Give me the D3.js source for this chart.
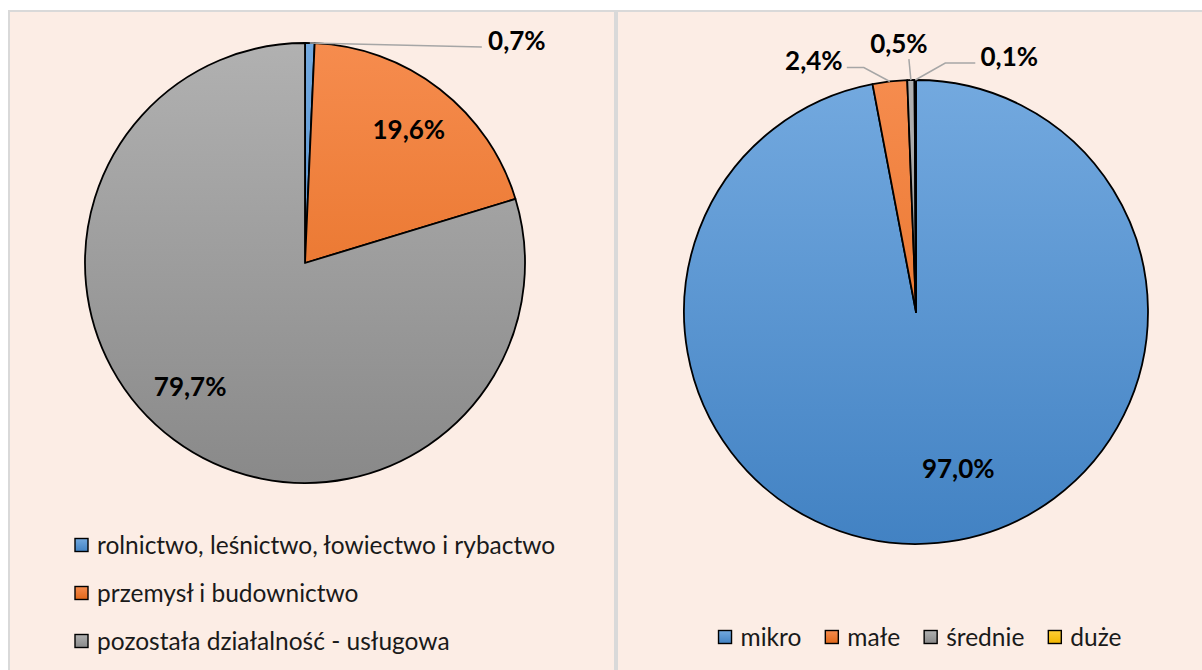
<!DOCTYPE html>
<html>
<head>
<meta charset="utf-8">
<script src="https://cdn.jsdelivr.net/npm/d3@7"></script>
<style>
  body { margin: 0; background: #fff; }
  svg text { font-family: Lato, "Open Sans", sans-serif; }
</style>
</head>
<body>
<div id="chart"></div>
<script>
// left chart: sectors
var sectorNames  = ["rolnictwo, leśnictwo, łowiectwo i rybactwo", "przemysł i budownictwo", "pozostała działalność - usługowa"];
var sectorShares = [0.7, 19.6, 79.7];
// right chart: company size
var sizeNames  = ["mikro", "małe", "średnie", "duże"];
var sizeShares = [97.0, 2.4, 0.5, 0.1];

var W = 1202, H = 670;
var fmt = function(v){ return d3.format(".1f")(v).replace(".", ",") + "%"; };

// gradient stops: top / bottom
var palette = {
  blue:   ["#73a9df", "#4282c3"],
  orange: ["#f68c4e", "#e1681a"],
  gray:   ["#b1b1b1", "#898989"],
  yellow: ["#ffce36", "#f2b600"]
};
var sectorColors = ["blue", "orange", "gray"];
var sizeColors   = ["blue", "orange", "gray", "yellow"];

var svg = d3.select("#chart").append("svg")
    .attr("width", W)
    .attr("height", H);

var defs = svg.append("defs");

// panels
svg.append("rect").attr("x", 8).attr("y", 10).attr("width", W - 8).attr("height", H - 10).style("fill", "#d9d9d9");
svg.append("rect").attr("x", 10).attr("y", 12).attr("width", 604).attr("height", H - 12).style("fill", "#fcede5");
svg.append("rect").attr("x", 618).attr("y", 12).attr("width", W - 618).attr("height", H - 12).style("fill", "#fcede5");

function gradient(id, key, y0, y1) {
  var g = defs.append("linearGradient")
      .attr("id", id)
      .attr("gradientUnits", "userSpaceOnUse")
      .attr("x1", 0).attr("x2", 0).attr("y1", y0).attr("y2", y1);
  g.append("stop").attr("offset", "0%").attr("stop-color", palette[key][0]);
  g.append("stop").attr("offset", "100%").attr("stop-color", palette[key][1]);
}

var pie = d3.pie().sort(null).value(function(d){ return d; });

function drawPie(opt) {
  var g = svg.append("g").attr("transform", "translate(" + opt.cx + "," + opt.cy + ")");
  var arcs = pie(opt.values);
  var arc = d3.arc().innerRadius(0).outerRadius(opt.r);

  opt.colors.forEach(function(c, i){
    gradient(opt.id + "-slice-" + i, c, -opt.r, opt.r);
  });

  g.selectAll("path.slice")
    .data(arcs)
    .enter().append("path")
      .attr("class", "slice")
      .attr("d", arc)
      .style("fill", function(d, i){ return "url(#" + opt.id + "-slice-" + i + ")"; })
      .style("stroke", "#000")
      .style("stroke-width", 1.8)
      .style("stroke-linejoin", "round");

  // labels
  arcs.forEach(function(d, i){
    var lay = opt.labels[i];
    var x, y;
    if (lay.inside) {
      var la = d3.arc().innerRadius(opt.r * lay.k).outerRadius(opt.r * lay.k);
      var c = la.centroid(d);
      x = c[0] + (lay.nudge ? lay.nudge[0] : 0);
      y = c[1] + (lay.nudge ? lay.nudge[1] : 0);
    } else {
      var ang = (d.startAngle + d.endAngle) / 2;
      var px = opt.r * Math.sin(ang), py = -opt.r * Math.cos(ang);
      var pts = [[px, py]].concat(lay.leader.map(function(p){ return [px + p[0], py + p[1]]; }));
      g.append("path")
        .attr("d", d3.line()(pts))
        .style("fill", "none")
        .style("stroke", "#a6a6a6")
        .style("stroke-width", 1.5);
      x = px + lay.at[0];
      y = py + lay.at[1];
    }
    g.append("text")
      .attr("x", x)
      .attr("y", y)
      .attr("dy", "0.36em")
      .attr("text-anchor", "middle")
      .style("font-size", "26px")
      .style("font-weight", "bold")
      .style("fill", "#000")
      .text(fmt(opt.values[i]));
  });
}

drawPie({
  id: "sec", cx: 305, cy: 263, r: 220,
  values: sectorShares, colors: sectorColors,
  labels: [
    { leader: [[172, 4]], at: [207, -2] },
    { inside: true, k: 0.77 },
    { inside: true, k: 0.77, nudge: [-14, -12] }
  ]
});

drawPie({
  id: "size", cx: 916, cy: 312, r: 232,
  values: sizeShares, colors: sizeColors,
  labels: [
    { inside: true, k: 0.7, nudge: [27, -5] },
    { leader: [[-26, -14], [-43, -14]], at: [-76, -21] },
    { leader: [[-2, -21]], at: [-12, -36] },
    { leader: [[30, -17], [60, -17]], at: [94, -23] }
  ]
});

// legends
var SQ = 13;
function swatch(g, id, key, x, y) {
  gradient(id, key, y, y + SQ);
  g.append("rect")
    .attr("x", x).attr("y", y)
    .attr("width", SQ).attr("height", SQ)
    .style("fill", "url(#" + id + ")")
    .style("stroke", "#000")
    .style("stroke-width", 1.4);
}

var legL = svg.append("g");
var rowY = d3.scalePoint().domain(sectorNames).range([545, 641]);
sectorNames.forEach(function(name, i){
  var y = rowY(name);
  swatch(legL, "legL-" + i, sectorColors[i], 75, y - SQ / 2);
  legL.append("text")
    .attr("x", 97).attr("y", y).attr("dy", "0.35em")
    .style("font-size", "24.5px")
    .style("fill", "#1a1a1a")
    .text(name);
});

var legR = svg.append("g");
var xCursor = 0;
sizeNames.forEach(function(name, i){
  var ig = legR.append("g");
  swatch(ig, "legR-" + i, sizeColors[i], 0, 637 - SQ / 2);
  var t = ig.append("text")
    .attr("x", SQ + 9).attr("y", 637).attr("dy", "0.35em")
    .style("font-size", "24.5px")
    .style("fill", "#1a1a1a")
    .text(name);
  var w = SQ + 9 + t.node().getComputedTextLength();
  ig.attr("transform", "translate(" + xCursor + ",0)");
  xCursor += w + 24;
});
var legW = xCursor - 24;
legR.attr("transform", "translate(" + (920 - legW / 2) + ",0)");
</script>
</body>
</html>
